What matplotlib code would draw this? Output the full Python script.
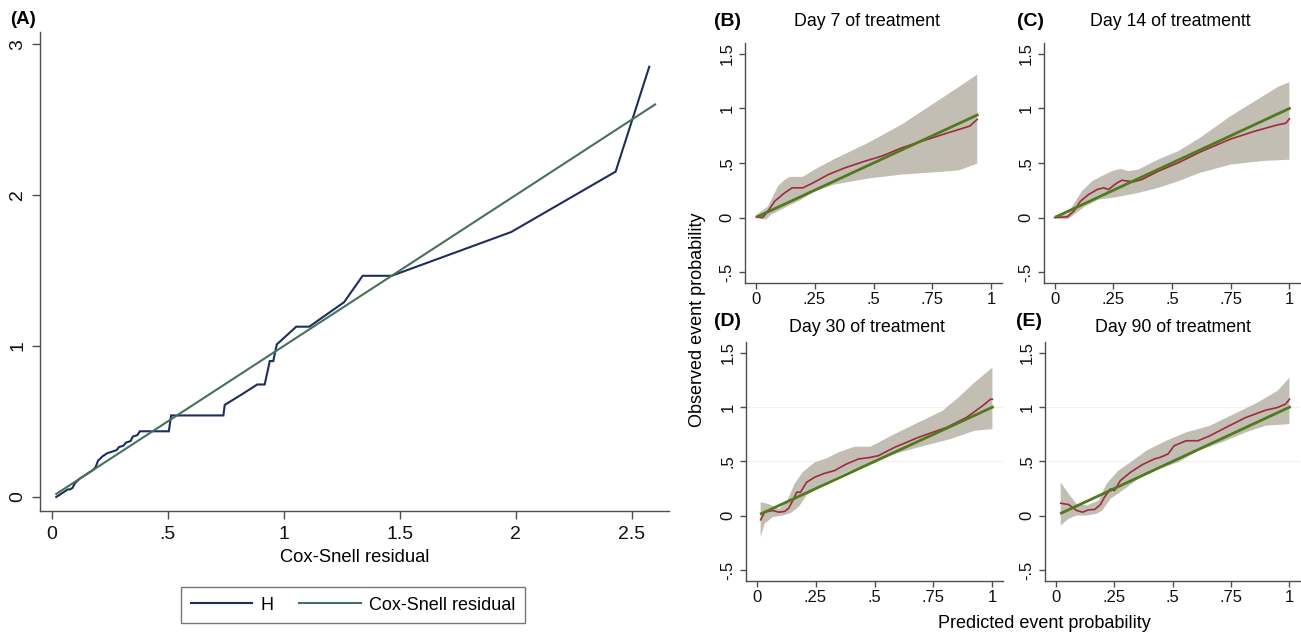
import matplotlib
matplotlib.use("Agg")
import matplotlib.pyplot as plt
import numpy as np

plt.rcParams['font.family'] = ['Liberation Sans', 'DejaVu Sans']

# ---------------- Panel A data ----------------
h_x = [0.02, 0.03, 0.04, 0.05, 0.06, 0.07, 0.08, 0.09, 0.10, 0.12, 0.15, 0.18, 0.19, 0.20,
       0.22, 0.24, 0.26, 0.28, 0.29, 0.31, 0.32, 0.34, 0.35, 0.37, 0.38, 0.505, 0.515, 0.74,
       0.746, 0.82, 0.886, 0.918, 0.94, 0.955, 0.97, 1.054, 1.11, 1.26, 1.34, 1.465, 1.98,
       2.43, 2.575]
h_y = [0.00, 0.01, 0.02, 0.03, 0.04, 0.05, 0.05, 0.06, 0.09, 0.12, 0.15, 0.18, 0.20, 0.24,
       0.27, 0.29, 0.30, 0.31, 0.33, 0.34, 0.36, 0.37, 0.40, 0.41, 0.435, 0.435, 0.54, 0.54,
       0.61, 0.68, 0.745, 0.745, 0.90, 0.90, 1.01, 1.128, 1.128, 1.29, 1.465, 1.465, 1.755,
       2.155, 2.85]
cs_x = [0.02, 2.60]
cs_y = [0.02, 2.60]

# ---------------- Panel B (Day 7) ----------------
b_diag = [0.01, 0.94]
b_red_x = [0.003, 0.03, 0.052, 0.081, 0.123, 0.155, 0.20, 0.244, 0.308, 0.379, 0.464, 0.535,
           0.62, 0.705, 0.825, 0.908, 0.94]
b_red_y = [0.006, 0.0, 0.058, 0.15, 0.226, 0.272, 0.272, 0.318, 0.394, 0.456, 0.517, 0.563,
           0.639, 0.70, 0.783, 0.838, 0.90]
b_up_x = [0.0, 0.052, 0.075, 0.095, 0.12, 0.145, 0.20, 0.251, 0.336, 0.478, 0.62, 0.825, 0.94]
b_up_y = [0.02, 0.10, 0.20, 0.287, 0.34, 0.373, 0.373, 0.44, 0.538, 0.685, 0.853, 1.144, 1.31]
b_lo_x = [0.0, 0.045, 0.067, 0.123, 0.194, 0.251, 0.336, 0.478, 0.62, 0.825, 0.865, 0.94]
b_lo_y = [-0.005, -0.018, 0.028, 0.089, 0.165, 0.241, 0.303, 0.358, 0.394, 0.425, 0.434, 0.495]

# ---------------- Panel C (Day 14) ----------------
c_diag = [0.01, 1.0]
c_red_x = [0.0, 0.054, 0.082, 0.11, 0.145, 0.181, 0.209, 0.23, 0.266, 0.287, 0.315, 0.336,
           0.372, 0.442, 0.527, 0.619, 0.75, 0.85, 0.95, 0.985, 1.0]
c_red_y = [0.0, 0.006, 0.058, 0.15, 0.211, 0.257, 0.272, 0.257, 0.318, 0.342, 0.333, 0.327,
           0.349, 0.425, 0.502, 0.60, 0.72, 0.79, 0.85, 0.865, 0.905]
c_up_x = [0.0, 0.054, 0.089, 0.117, 0.16, 0.20, 0.244, 0.28, 0.315, 0.357, 0.442, 0.527,
          0.619, 0.75, 0.953, 1.0]
c_up_y = [0.02, 0.03, 0.15, 0.242, 0.333, 0.379, 0.425, 0.446, 0.425, 0.44, 0.532, 0.609,
          0.73, 0.93, 1.20, 1.24]
c_lo_x = [0.0, 0.06, 0.089, 0.131, 0.188, 0.244, 0.30, 0.357, 0.442, 0.527, 0.619, 0.75,
          0.85, 0.90, 1.0]
c_lo_y = [-0.01, -0.012, 0.037, 0.104, 0.165, 0.18, 0.202, 0.226, 0.272, 0.333, 0.41, 0.486,
          0.51, 0.52, 0.53]

# ---------------- Panel D (Day 30) ----------------
d_diag = [0.02, 1.0]
d_red_x = [0.017, 0.034, 0.068, 0.093, 0.119, 0.136, 0.153, 0.17, 0.186, 0.212, 0.246, 0.288,
           0.33, 0.381, 0.432, 0.483, 0.517, 0.585, 0.686, 0.805, 0.89, 0.958, 0.992, 1.0]
d_red_y = [-0.037, 0.034, 0.049, 0.034, 0.04, 0.07, 0.14, 0.217, 0.217, 0.309, 0.355, 0.391,
           0.416, 0.477, 0.523, 0.538, 0.554, 0.63, 0.722, 0.813, 0.905, 1.012, 1.073, 1.073]
d_up_x = [0.017, 0.05, 0.093, 0.127, 0.161, 0.195, 0.246, 0.297, 0.347, 0.415, 0.483, 0.585,
          0.686, 0.788, 0.856, 0.924, 1.0]
d_up_y = [0.125, 0.11, 0.064, 0.125, 0.294, 0.40, 0.492, 0.529, 0.584, 0.636, 0.636, 0.752,
          0.859, 0.966, 1.089, 1.226, 1.364]
d_lo_x = [0.017, 0.034, 0.068, 0.11, 0.144, 0.178, 0.212, 0.28, 0.381, 0.483, 0.585, 0.686,
          0.822, 0.924, 1.0]
d_lo_y = [-0.196, -0.073, -0.012, 0.003, 0.024, 0.08, 0.187, 0.294, 0.40, 0.477, 0.569, 0.63,
          0.706, 0.783, 0.798]

# ---------------- Panel E (Day 90) ----------------
e_diag = [0.025, 1.0]
e_red_x = [0.022, 0.056, 0.09, 0.116, 0.141, 0.167, 0.192, 0.209, 0.235, 0.252, 0.277, 0.32,
           0.371, 0.422, 0.447, 0.481, 0.507, 0.558, 0.609, 0.66, 0.728, 0.813, 0.898, 0.949,
           0.983, 1.0]
e_red_y = [0.116, 0.104, 0.049, 0.034, 0.055, 0.058, 0.104, 0.171, 0.248, 0.232, 0.324, 0.40,
           0.471, 0.523, 0.538, 0.569, 0.645, 0.691, 0.691, 0.737, 0.813, 0.905, 0.972, 0.997,
           1.028, 1.073]
e_up_x = [0.022, 0.056, 0.09, 0.133, 0.184, 0.218, 0.269, 0.32, 0.388, 0.473, 0.558, 0.66,
          0.762, 0.864, 0.949, 1.0]
e_up_y = [0.309, 0.202, 0.11, 0.095, 0.141, 0.294, 0.416, 0.492, 0.599, 0.691, 0.768, 0.829,
          0.936, 1.043, 1.15, 1.272]
e_lo_x = [0.022, 0.056, 0.09, 0.133, 0.175, 0.20, 0.235, 0.286, 0.354, 0.439, 0.524, 0.609,
          0.711, 0.813, 0.898, 1.0]
e_lo_y = [-0.089, -0.028, 0.003, 0.003, 0.018, 0.049, 0.156, 0.232, 0.339, 0.431, 0.492,
          0.599, 0.676, 0.768, 0.829, 0.844]

a_xticks = [0, 0.5, 1, 1.5, 2, 2.5]
a_xlabels = ['0', '.5', '1', '1.5', '2', '2.5']
a_yticks = [0, 1, 2, 3]
a_ylabels = ['0', '1', '2', '3']
p_xticks = [0, 0.25, 0.5, 0.75, 1]
p_xlabels = ['0', '.25', '.5', '.75', '1']
p_yticks = [-0.5, 0, 0.5, 1, 1.5]
p_ylabels = ['-.5', '0', '.5', '1', '1.5']

panels = [
    ('(B)', 'Day 7 of treatment', b_diag, b_red_x, b_red_y, b_up_x, b_up_y, b_lo_x, b_lo_y),
    ('(C)', 'Day 14 of treatmentt', c_diag, c_red_x, c_red_y, c_up_x, c_up_y, c_lo_x, c_lo_y),
    ('(D)', 'Day 30 of treatment', d_diag, d_red_x, d_red_y, d_up_x, d_up_y, d_lo_x, d_lo_y),
    ('(E)', 'Day 90 of treatment', e_diag, e_red_x, e_red_y, e_up_x, e_up_y, e_lo_x, e_lo_y),
]

W, H = 1301, 636
fig = plt.figure(figsize=(W / 100, H / 100), dpi=100)


def rect(l, t, r, b):
    return [l / W, 1 - b / H, (r - l) / W, (b - t) / H]


SPINE = '#4d4d4d'
NAVY = '#1e2c5e'
CSGREEN = '#46715a'
RED = '#a02a3e'
OLIVE = '#4f7a1e'
BAND = '#c3beb4'


def style_axes(ax, ticklen, fs, pad_x, pad_y):
    for s in ['top', 'right']:
        ax.spines[s].set_visible(False)
    for s in ['left', 'bottom']:
        ax.spines[s].set_color(SPINE)
        ax.spines[s].set_linewidth(1.0)
    ax.tick_params(axis='both', direction='out', length=ticklen, width=1.0, color=SPINE,
                   labelsize=fs, labelcolor='#111111')
    ax.tick_params(axis='x', pad=pad_x)
    ax.tick_params(axis='y', pad=pad_y)
    for lab in ax.get_yticklabels():
        lab.set_rotation(90)
        lab.set_va('center')


# ---------------- Panel A ----------------
axA = fig.add_axes(rect(40, 32, 669, 511))
axA.plot(h_x, h_y, color=NAVY, lw=1.5, label='H', solid_joinstyle='miter')
axA.plot(cs_x, cs_y, color=CSGREEN, lw=1.5, label='Cox-Snell residual')
axA.set_xlim(-0.05, 2.66)
axA.set_ylim(-0.093, 3.08)
axA.set_xticks(a_xticks)
axA.set_xticklabels(a_xlabels)
axA.set_yticks(a_yticks)
axA.set_yticklabels(a_ylabels)
style_axes(axA, 6, 14, 5, 4)
axA.set_xlabel('Cox-Snell residual', fontsize=13.2, labelpad=4)
leg = axA.legend(loc='center', bbox_to_anchor=(353 / W, 1 - 605 / H), bbox_transform=fig.transFigure,
                 ncol=2, frameon=True, fancybox=False, fontsize=13, handlelength=3.4,
                 columnspacing=1.45, handletextpad=0.45, borderpad=0.55, borderaxespad=0)
leg.get_frame().set_edgecolor('#555555')
leg.get_frame().set_linewidth(1.0)
fig.text(23 / W, 1 - 20 / H, '(A)', fontsize=13.5, fontweight='bold', ha='center', va='center')

# ---------------- Panels B-E ----------------
rects = [(745, 43, 1002, 283), (1044, 43, 1300, 283), (746, 342, 1003, 581), (1045, 342, 1300, 581)]
label_pos = [(728, 22, 867, 22), (1031, 22, 1170, 22), (728, 321, 867, 328), (1029, 321, 1173, 328)]

for i, (tag, title, diag, rx, ry, ux, uy, lx, ly) in enumerate(panels):
    ax = fig.add_axes(rect(*rects[i]))
    if i >= 2:
        for g in [0.5, 1.0]:
            ax.axhline(g, color='#f1f1f1', lw=0.8, zorder=0)
    poly_x = list(ux) + list(lx[::-1])
    poly_y = list(uy) + list(ly[::-1])
    ax.fill(poly_x, poly_y, color=BAND, lw=0, zorder=1)
    ax.plot(rx, ry, color=RED, lw=1.2, zorder=3)
    ax.plot(diag, diag, color=OLIVE, lw=2.0, zorder=4)
    ax.set_xlim(-0.045, 1.045)
    ax.set_ylim(-0.6, 1.6)
    ax.set_xticks(p_xticks)
    ax.set_xticklabels(p_xlabels)
    ax.set_yticks(p_yticks)
    ax.set_yticklabels(p_ylabels)
    style_axes(ax, 4, 12, 2.5, 3.5)
    tx, ty, hx, hy = label_pos[i]
    fig.text(tx / W, 1 - ty / H, tag, fontsize=14, fontweight='bold', ha='center', va='center')
    fig.text(hx / W, 1 - hy / H, title, fontsize=12.8, ha='center', va='center')

fig.text(697 / W, 1 - 320 / H, 'Observed event probability', fontsize=13, rotation=90,
         ha='center', va='center')
fig.text(1044 / W, 1 - 623 / H, 'Predicted event probability', fontsize=13, ha='center', va='center')

fig.savefig('out.png', dpi=100)
